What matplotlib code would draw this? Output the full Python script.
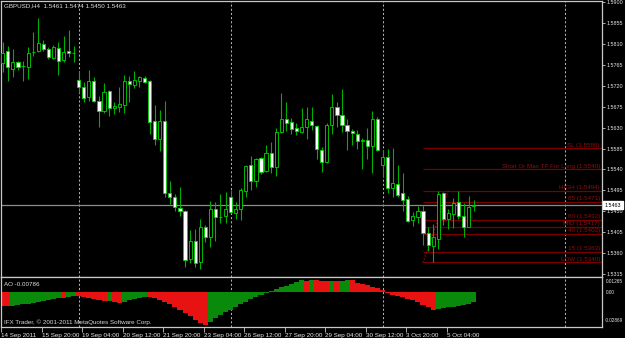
import numpy as np
import matplotlib.pyplot as plt
from matplotlib.transforms import blended_transform_factory as blend

# GBPUSD H4 candles
opens = [1.5768, 1.5794, 1.5757, 1.5770, 1.5763, 1.5761, 1.5792, 1.5794, 1.5810, 1.5800,
         1.5780, 1.5801, 1.5775, 1.5794, 1.5790, 1.5732, 1.5717, 1.5695, 1.5731, 1.5688,
         1.5666, 1.5708, 1.5672, 1.5675, 1.5678, 1.5731, 1.5721, 1.5731, 1.5737, 1.5730,
         1.5644, 1.5605, 1.5644, 1.5490, 1.5480, 1.5457, 1.5451, 1.5347, 1.5386, 1.5340,
         1.5417, 1.5395, 1.5456, 1.5438, 1.5441, 1.5481, 1.5447, 1.5456, 1.5494, 1.5549,
         1.5516, 1.5565, 1.5536, 1.5576, 1.5546, 1.5620, 1.5649, 1.5641, 1.5629, 1.5620,
         1.5631, 1.5645, 1.5633, 1.5582, 1.5556, 1.5635, 1.5674, 1.5658, 1.5635, 1.5623,
         1.5616, 1.5602, 1.5603, 1.5590, 1.5648, 1.5549, 1.5566, 1.5500, 1.5509, 1.5489,
         1.5476, 1.5431, 1.5438, 1.5450, 1.5404, 1.5375, 1.5391, 1.5489, 1.5434, 1.5444,
         1.5469, 1.5441, 1.5416, 1.5461]
highs = [1.5815, 1.5805, 1.5798, 1.5774, 1.5774, 1.5803, 1.5836, 1.5866, 1.5818, 1.5803,
         1.5807, 1.5815, 1.5828, 1.5840, 1.5805, 1.5752, 1.5727, 1.5754, 1.5739, 1.5698,
         1.5725, 1.5711, 1.5684, 1.5718, 1.5744, 1.5742, 1.5752, 1.5741, 1.5741, 1.5732,
         1.5679, 1.5668, 1.5688, 1.5516, 1.5487, 1.5502, 1.5453, 1.5410, 1.5413, 1.5434,
         1.5420, 1.5472, 1.5469, 1.5487, 1.5492, 1.5496, 1.5470, 1.5500, 1.5550, 1.5570,
         1.5565, 1.5567, 1.5593, 1.5599, 1.5629, 1.5705, 1.5684, 1.5651, 1.5639, 1.5672,
         1.5675, 1.5675, 1.5636, 1.5589, 1.5639, 1.5702, 1.5685, 1.5714, 1.5649, 1.5626,
         1.5625, 1.5608, 1.5629, 1.5666, 1.5653, 1.5582, 1.5583, 1.5586, 1.5550, 1.5532,
         1.5483, 1.5449, 1.5461, 1.5464, 1.5416, 1.5423, 1.5493, 1.5491, 1.5454, 1.5479,
         1.5493, 1.5467, 1.5484, 1.5474]
lows = [1.5750, 1.5731, 1.5739, 1.5754, 1.5731, 1.5735, 1.5784, 1.5793, 1.5794, 1.5778,
        1.5778, 1.5744, 1.5771, 1.5781, 1.5771, 1.5705, 1.5685, 1.5688, 1.5684, 1.5632,
        1.5662, 1.5655, 1.5659, 1.5664, 1.5662, 1.5684, 1.5715, 1.5717, 1.5725, 1.5616,
        1.5592, 1.5579, 1.5480, 1.5466, 1.5450, 1.5441, 1.5330, 1.5338, 1.5331, 1.5327,
        1.5384, 1.5374, 1.5387, 1.5424, 1.5424, 1.5447, 1.5434, 1.5431, 1.5480, 1.5496,
        1.5503, 1.5530, 1.5535, 1.5532, 1.5526, 1.5619, 1.5623, 1.5616, 1.5615, 1.5618,
        1.5606, 1.5625, 1.5563, 1.5535, 1.5553, 1.5616, 1.5632, 1.5620, 1.5582, 1.5593,
        1.5583, 1.5542, 1.5562, 1.5532, 1.5579, 1.5524, 1.5490, 1.5481, 1.5481, 1.5451,
        1.5426, 1.5418, 1.5424, 1.5378, 1.5365, 1.5342, 1.5370, 1.5420, 1.5413, 1.5414,
        1.5433, 1.5394, 1.5416, 1.5450]
closes = [1.5791, 1.5760, 1.5770, 1.5760, 1.5762, 1.5791, 1.5793, 1.5811, 1.5798, 1.5781,
          1.5803, 1.5774, 1.5793, 1.5791, 1.5790, 1.5717, 1.5694, 1.5731, 1.5688, 1.5665,
          1.5707, 1.5672, 1.5676, 1.5681, 1.5730, 1.5724, 1.5732, 1.5739, 1.5728, 1.5641,
          1.5606, 1.5644, 1.5490, 1.5480, 1.5459, 1.5450, 1.5345, 1.5386, 1.5338, 1.5417,
          1.5394, 1.5454, 1.5437, 1.5438, 1.5456, 1.5449, 1.5456, 1.5496, 1.5547, 1.5516,
          1.5563, 1.5535, 1.5576, 1.5546, 1.5620, 1.5649, 1.5639, 1.5628, 1.5623, 1.5632,
          1.5648, 1.5635, 1.5585, 1.5556, 1.5635, 1.5675, 1.5658, 1.5635, 1.5623, 1.5618,
          1.5602, 1.5602, 1.5590, 1.5648, 1.5582, 1.5566, 1.5500, 1.5510, 1.5486, 1.5474,
          1.5430, 1.5440, 1.5450, 1.5404, 1.5377, 1.5394, 1.5487, 1.5434, 1.5446, 1.5467,
          1.5441, 1.5416, 1.5460, 1.5463]

# Awesome Oscillator values
ao = [-0.0110, -0.0113, -0.0110, -0.0105, -0.0099, -0.0094, -0.0088, -0.0080, -0.0072, -0.0061,
      -0.0052, -0.0044, -0.0047, -0.0036, -0.0030, -0.0033, -0.0041, -0.0050, -0.0058, -0.0066,
      -0.0074, -0.0072, -0.0080, -0.0085, -0.0077, -0.0066, -0.0055, -0.0047, -0.0039, -0.0041,
      -0.0050, -0.0061, -0.0077, -0.0096, -0.0119, -0.0143, -0.0171, -0.0199, -0.0226, -0.0254,
      -0.0270, -0.0243, -0.0215, -0.0187, -0.0165, -0.0143, -0.0121, -0.0099, -0.0077, -0.0055,
      -0.0036, -0.0019, -0.0006, 0.0008, 0.0024, 0.0040, 0.0055, 0.0070, 0.0085, 0.0101,
      0.0097, 0.0100, 0.0099, 0.0095, 0.0090, 0.0094, 0.0090, 0.0095, 0.0100, 0.0099,
      0.0080, 0.0069, 0.0058, 0.0047, 0.0036, 0.0017, -0.0006, -0.0019, -0.0030, -0.0041,
      -0.0055, -0.0066, -0.0083, -0.0102, -0.0121, -0.0143, -0.0141, -0.0132, -0.0124, -0.0119,
      -0.0113, -0.0105, -0.0096, -0.00786]
ao_max, ao_min = 0.01265, -0.02869

date_labels = ["14 Sep 2011", "15 Sep 20:00", "19 Sep 04:00", "20 Sep 12:00", "21 Sep 20:00",
               "23 Sep 04:00", "26 Sep 12:00", "27 Sep 20:00", "29 Sep 04:00", "30 Sep 12:00",
               "3 Oct 20:00", "5 Oct 04:00"]
week_starts = [15, 45, 75, 111]

fibo_names = ["SL", "Short Or Max TP For Long", "HIGH", "85", "60", "MID", "40", "15", "LOW"]
fibo_levels = [1.5586, 1.5540, 1.5494, 1.5471, 1.5432, 1.5417, 1.5402, 1.5363, 1.5340]
fibo_start = 83

price_ticks = [1.5315 + 0.0045 * k for k in range(14)]

plt.rcParams['font.family'] = ['Liberation Sans', 'DejaVu Sans']
W, H = 625, 338
fg = '#c8c8c8'
fig = plt.figure(figsize=(W / 100, H / 100), dpi=100, facecolor='black')
ax = fig.add_axes([1 / W, 1 - 277 / H, 601 / W, 276 / H], facecolor='black')
ax2 = fig.add_axes([1 / W, 11 / H, 601 / W, 50 / H], facecolor='black', sharex=ax)

o, h, l, c = map(np.array, (opens, highs, lows, closes))
x = np.arange(len(o))
xmax = 118.35

for a in (ax, ax2):
    for wk in week_starts:
        a.axvline(wk, color='#b0b0b0', ls=(0, (2, 2)), lw=0.75, zorder=0.5)
    for s in a.spines.values():
        s.set_color(fg)
        s.set_linewidth(0.9)

# bid line
ax.axhline(c[-1], color='#8c8c8c', lw=0.9, zorder=1)

# fibo levels
ax.hlines(fibo_levels, fibo_start, xmax, color='#7a0000', lw=0.9, zorder=1.2)
for name, lvl in zip(fibo_names, fibo_levels):
    ax.text(xmax - 0.4, lvl + 0.00012, f"{name} ({lvl:.4f})", ha='right', va='bottom',
            color='#8e0f0f', fontsize=4.5)
ax.plot([fibo_start, fibo_start + 5], [fibo_levels[-1], fibo_levels[2]],
        color='#c00000', ls=(0, (1, 1.5)), lw=0.9, zorder=1.3)

# candles
ax.vlines(x, l, h, color='#00b000', lw=0.8, zorder=2)
body = np.maximum(np.abs(c - o), 0.00004)
fill = np.where(c < o, 'white', 'black')
ax.bar(x, body, bottom=np.minimum(o, c), width=0.62, color=fill,
       edgecolor='#00d800', linewidth=0.6, zorder=3)

ax.set_xlim(-0.2, xmax)
ax.set_ylim(1.53088, 1.59022)
ax.yaxis.tick_right()
ax.set_yticks(price_ticks, [f"{t:.4f}" for t in price_ticks])
ax.tick_params(axis='y', colors=fg, labelsize=3.9, length=2.5, width=0.6, pad=1.0,
               labelcolor='#e8e8e8')
ax.tick_params(axis='x', bottom=False, labelbottom=False)

tr = blend(ax.transAxes, ax.transData)
ax.text(1.0045, c[-1], f"{c[-1]:.4f}", transform=tr, ha='left', va='center',
        fontsize=3.9, color='black',
        bbox=dict(boxstyle='square,pad=0.25', fc='white', ec='white'))

fig.text(4 / W, 1 - 3 / H, "GBPUSD,H4  %.4f %.4f %.4f %.4f" % (o[-1], h[-1], l[-1], c[-1]),
         color='#e0e0e0', fontsize=4.5, va='top', ha='left')

# AO histogram
ao = np.array(ao)
up = np.r_[False, np.diff(ao) > 0]
ax2.bar(x, ao, width=1.0, color=np.where(up, '#0a8a0a', '#e81212'), linewidth=0, zorder=2)
ax2.set_ylim(ao_min, ao_max)
ax2.set_yticks([])
tr2 = blend(ax2.transAxes, ax2.transData)
ax2.text(1.006, ao_max - 0.0017, f"{ao_max:.5f}", transform=tr2, ha='left', va='top',
         fontsize=3.4, color='#e8e8e8')
ax2.text(1.006, 0, "0.00", transform=tr2, ha='left', va='center', fontsize=3.4, color='#e8e8e8')
ax2.text(1.0045, ao_min + 0.003, f"{ao_min:.5f}", transform=tr2, ha='left', va='bottom',
         fontsize=3.3, color='#e8e8e8')
ax2.text(0.005, 0.84, f"AO {ao[-1]:.5f}", transform=ax2.transAxes, ha='left', va='center',
         fontsize=4.5, color='#e0e0e0')
ax2.text(0.005, 0.09, "IFX Trader, \u00a9 2001-2011 MetaQuotes Software Corp.", transform=ax2.transAxes,
         ha='left', va='center', fontsize=4.5, color='#d8d8d8')

tick_pos = np.arange(len(date_labels)) * 8 - 0.35
ax2.set_xticks(tick_pos, date_labels)
ax2.tick_params(axis='x', colors=fg, labelsize=4.5, length=3.5, width=0.6, pad=0.8,
                labelcolor='#e8e8e8')
for lab in ax2.get_xticklabels():
    lab.set_ha('left')

fig.savefig('out.png', dpi=100, facecolor='black')
